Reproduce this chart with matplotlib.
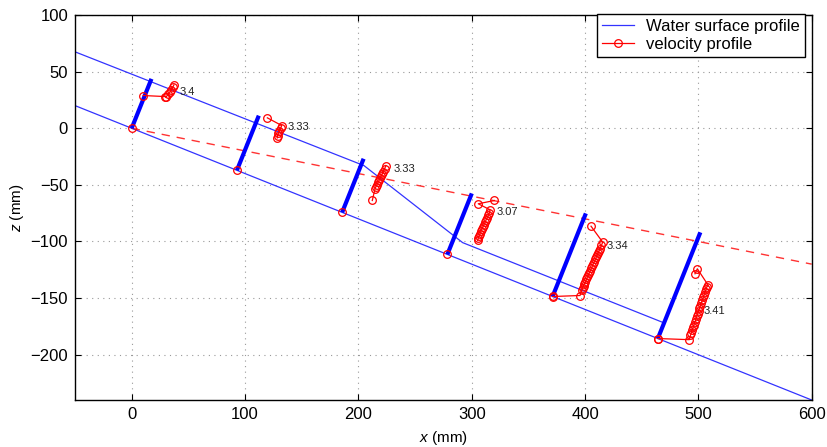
import numpy as np
import matplotlib
matplotlib.use('Agg')
import matplotlib.pyplot as plt

plt.rcParams['font.family'] = ['Liberation Sans', 'DejaVu Sans']
plt.rcParams['mathtext.fontset'] = 'custom'
plt.rcParams['mathtext.it'] = 'Liberation Sans:italic'

# bed slope and measuring stations (distance along the bed, mm)
bed_slope = 0.4
stations = [0, 100, 200, 300, 400, 500]
bar_length = [47, 52, 51, 58, 79, 101]

# water surface profile (x, z in mm)
ws_x = [-50, 205, 292, 470]
ws_z = [67.5, -33, -101, -172]

# dashed reference line
ref_x = [0, 600]
ref_z = [0, -120]

# velocity profiles (x, z in mm)
prof_x = [
    [10.2, 29.4, 30.3, 32.3, 33.8, 34.7, 36.2, 37.3],
    [128.5, 128.8, 129.4, 130.2, 131.5, 132.4, 119.7],
    [212.3, 214.7, 215.5, 216.4, 217.3, 218.3, 219.2, 220.2, 221.1, 222.0, 223.2, 224.4],
    [305.3, 305.8, 306.5, 307.3, 308.1, 309.0, 309.9, 310.8, 311.8, 312.7, 313.6,
     314.6, 315.5, 316.2, 305.8, 320.0],
    [371.4, 395.6, 397.0, 397.8, 398.7, 399.5, 400.3, 401.2, 402.0, 402.9, 403.8,
     404.6, 405.5, 406.4, 407.2, 408.1, 409.0, 409.8, 410.7, 411.6, 412.4, 413.3,
     414.5, 415.6, 405.3],
    [464.3, 492.0, 493.0, 493.8, 494.6, 495.4, 496.2, 497.0, 497.8, 498.6, 499.4,
     500.2, 501.0, 501.8, 502.6, 503.5, 504.3, 505.1, 506.0, 506.8, 507.6, 508.8,
     499.1, 497.0],
]
prof_z = [
    [28.9, 28.0, 27.4, 30.4, 31.8, 33.9, 36.2, 38.3],
    [-8.5, -6.4, -4.4, -2.0, 0.3, 2.4, 9.2],
    [-63.8, -53.5, -51.6, -49.7, -47.8, -45.9, -44.0, -42.1, -40.2, -38.3, -35.6, -32.9],
    [-99.1, -97.0, -95.0, -93.0, -91.0, -89.0, -87.0, -85.0, -83.0, -81.0, -79.0,
     -77.0, -75.0, -72.0, -66.7, -63.8],
    [-148.6, -147.7, -143.2, -141.3, -139.3, -137.4, -135.4, -133.5, -131.5, -129.6,
     -127.6, -125.7, -123.7, -121.8, -119.8, -117.9, -115.9, -114.0, -112.0, -110.1,
     -108.1, -106.2, -103.4, -100.6, -86.5],
    [-185.7, -186.7, -183.0, -180.6, -178.2, -175.8, -173.4, -171.0, -168.6, -166.2,
     -163.8, -161.4, -159.0, -156.6, -154.2, -151.8, -149.4, -147.0, -144.6, -142.2,
     -139.8, -138.8, -124.1, -128.5],
]

labels = ['3.4', '3.33', '3.33', '3.07', '3.34', '3.41']
lab_x = [42.5, 137.6, 230.8, 322.0, 419.1, 504.4]
lab_z = [31.8, 1.5, -35.9, -74.1, -104.1, -161.7]

theta = np.arctan(bed_slope)
st = np.array(stations, dtype=float)
st_x = st * np.cos(theta)
st_z = -st * np.sin(theta)

fig = plt.figure(figsize=(8.27, 4.47), dpi=100)
ax = fig.add_axes([0.0907, 0.1051, 0.8908, 0.8613])

# bed line
bed_x = np.array([-50, 600])
ax.plot(bed_x, -bed_slope * bed_x, color='#0000ff', lw=0.9, alpha=0.8)
ws, = ax.plot(ws_x, ws_z, color='#0000ff', lw=0.9, alpha=0.8, label='Water surface profile')
ax.plot(ref_x, ref_z, color='#ff0000', lw=1.0, ls=(0, (6, 5)), alpha=0.8)

# measuring bars
for x0, z0, L in zip(st_x, st_z, bar_length):
    ax.plot([x0, x0 + L * np.sin(theta)], [z0, z0 + L * np.cos(theta)],
            color='#0000ff', lw=3.0, solid_capstyle='butt', zorder=3)

ax.plot(st_x, st_z, 'o', color='#ff0000', mfc='none', ms=5.5, mew=0.9, zorder=4)

for i in range(len(prof_x)):
    ln, = ax.plot(prof_x[i], prof_z[i], '-o', color='#ff0000', mfc='none',
                  ms=5.5, mew=0.9, lw=0.9, zorder=4)
    ax.text(lab_x[i], lab_z[i], labels[i], fontsize=8, va='center', ha='left',
            color='#222222')
ln.set_label('velocity profile')

ax.set_xlim(-50, 600)
ax.set_ylim(-240, 100)
ax.set_xticks(range(0, 601, 100))
ax.set_yticks(range(-200, 101, 50))
ax.tick_params(direction='in', top=True, right=True, labelsize=12, length=4.5, pad=5)
ax.grid(True, ls=(0, (1, 4)), color='#999999', lw=0.8)
for s in ax.spines.values():
    s.set_linewidth(1.0)

ax.set_xlabel('$x$ (mm)', fontsize=11, labelpad=5)
ax.set_ylabel('$z$ (mm)', fontsize=11, labelpad=3)

leg = ax.legend(handles=[ws, ln], loc='upper right', fontsize=12, fancybox=False,
                framealpha=1, edgecolor='black', borderaxespad=0,
                bbox_to_anchor=(805 / 827, 1 - 14 / 447), bbox_transform=fig.transFigure,
                handlelength=1.9, handletextpad=0.75, borderpad=0.3, labelspacing=0.2)
leg.get_frame().set_linewidth(1.0)

fig.savefig('out.png', dpi=100)
